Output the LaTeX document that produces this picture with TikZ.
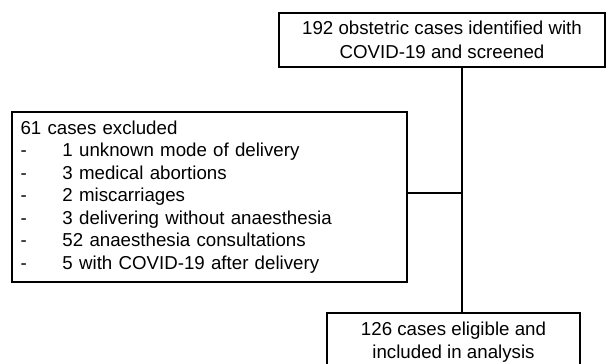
\documentclass[tikz,border=0pt]{standalone}
\usepackage{fontspec}
\setmainfont{Liberation Sans}
\begin{document}
\begin{tikzpicture}[x=1pt,y=-1pt,
  box/.style={draw=black, line width=1.3pt, inner sep=0pt, font=\fontsize{18.7}{22.5}\selectfont, align=center},
  link/.style={draw=black, line width=1.3pt}]
\useasboundingbox (0,0) rectangle (608,364);
\clip (0,0) rectangle (608,364);
\node[box, minimum width=326pt, minimum height=54pt, font=\fontsize{18.7}{23.5}\selectfont] (top) at (442,40)
  {192 obstetric cases identified with\\COVID-19 and screened};
\node[box, minimum width=395pt, minimum height=170pt, inner xsep=8.5pt, text width=378pt, align=left] (excl) at (209.5,197)
  {61 cases excluded\\
   \makebox[42pt][l]{-}1 unknown mode of delivery\\
   \makebox[42pt][l]{-}3 medical abortions\\
   \makebox[42pt][l]{-}2 miscarriages\\
   \makebox[42pt][l]{-}3 delivering without anaesthesia\\
   \makebox[42pt][l]{-}52 anaesthesia consultations\\
   \makebox[42pt][l]{-}5 with COVID-19 after delivery};
\node[box, minimum width=253pt, minimum height=58pt] (bot) at (453.5,342)
  {126 cases eligible and\\included in analysis};
\coordinate (j) at (462,193);
\draw[link] (top.south -| j) -- (bot.north -| j);
\draw[link] (excl.east |- j) -- (j);
\end{tikzpicture}
\end{document}
